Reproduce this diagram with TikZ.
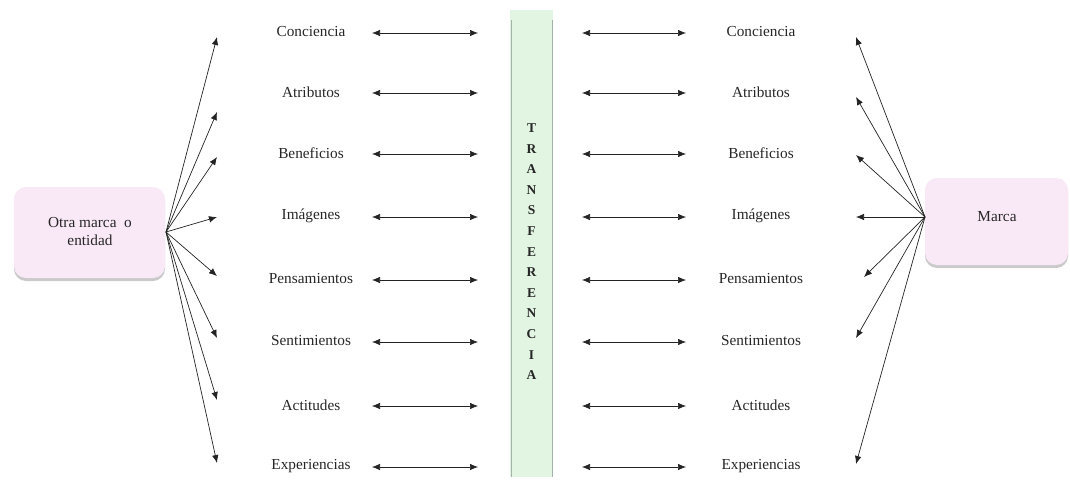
\documentclass[tikz,border=0pt]{standalone}
\usepackage{fontspec}
\setmainfont{Liberation Serif}
\usetikzlibrary{arrows.meta,shadows}
\definecolor{boxpink}{RGB}{249,233,247}
\definecolor{barfill}{RGB}{226,245,226}
\definecolor{barline}{RGB}{165,178,170}
\definecolor{inkline}{RGB}{35,35,35}
\begin{document}
\begin{tikzpicture}[x=1pt,y=-1pt,
  every node/.style={font=\fontsize{15.3}{18}\selectfont, text=black!85},
  entity/.style={draw=none, fill=boxpink, rounded corners=12pt, align=center,
    drop shadow={shadow xshift=0pt, shadow yshift=-3pt, opacity=0.35, fill=black!60}},
  item/.style={inner sep=1pt},
  tip/.style={-{Latex[length=8pt,width=6.5pt]}, inkline, line width=0.7pt},
  both/.style={{Latex[length=8pt,width=6.5pt]}-{Latex[length=8pt,width=6.5pt]}, inkline, line width=0.7pt},
  letter/.style={font=\fontsize{13.5}{13.5}\selectfont\bfseries, inner sep=0pt}]
\useasboundingbox (0,0) rectangle (1070,479);

% central transfer band
\fill[barfill] (510,10) rectangle (553,477);
\draw[barline, line width=1pt] (511,20) -- (511,477) (552,20) -- (552,477);
\foreach \ch [count=\i from 0] in {T,R,A,N,S,F,E,R,E,N,C,I,A}
  \node[letter] (band\i) at (531.5,128+20.6*\i) {\ch};

% the two entities
\path[entity] (14,187) rectangle (165,278);
\node (otra) at (90,232) [align=center] {Otra marca\ \ o\\entidad};
\coordinate (hubL) at (166,232);
\path[entity] (925,178) rectangle (1068,265);
\node (marca) at (997,217) {Marca};
\coordinate (hubR) at (925,217);

% attribute rows
\foreach \name/\txt/\y [count=\k] in {
  con/Conciencia/32, atr/Atributos/92, ben/Beneficios/153, ima/Imágenes/216,
  pen/Pensamientos/279, sen/Sentimientos/341, act/Actitudes/405, exp/Experiencias/466}{
  \node[item] (L\name) at (311,\y) {\txt};
  \node[item] (R\name) at (761,\y) {\txt};
  \coordinate (La\name) at (372,\y+1);
  \coordinate (Lb\name) at (478,\y+1);
  \coordinate (Ra\name) at (582,\y+1);
  \coordinate (Rb\name) at (686,\y+1);
  \draw[both] (La\name) -- (Lb\name);
  \draw[both] (Ra\name) -- (Rb\name);
}

% fan from the left entity
\foreach \n/\y in {1/37,2/112,3/157,4/217,5/276,6/338,7/400,8/463}{
  \coordinate (fl\n) at (217,\y);
  \draw[tip] (hubL) -- (fl\n);
}
% fan from the right entity
\foreach \n/\x/\y in {1/856/37,2/856/97,3/856/155,4/856/217,5/864/277,6/856/338,7/856/464}{
  \coordinate (fr\n) at (\x,\y);
  \draw[tip] (hubR) -- (fr\n);
}
\end{tikzpicture}
\end{document}
